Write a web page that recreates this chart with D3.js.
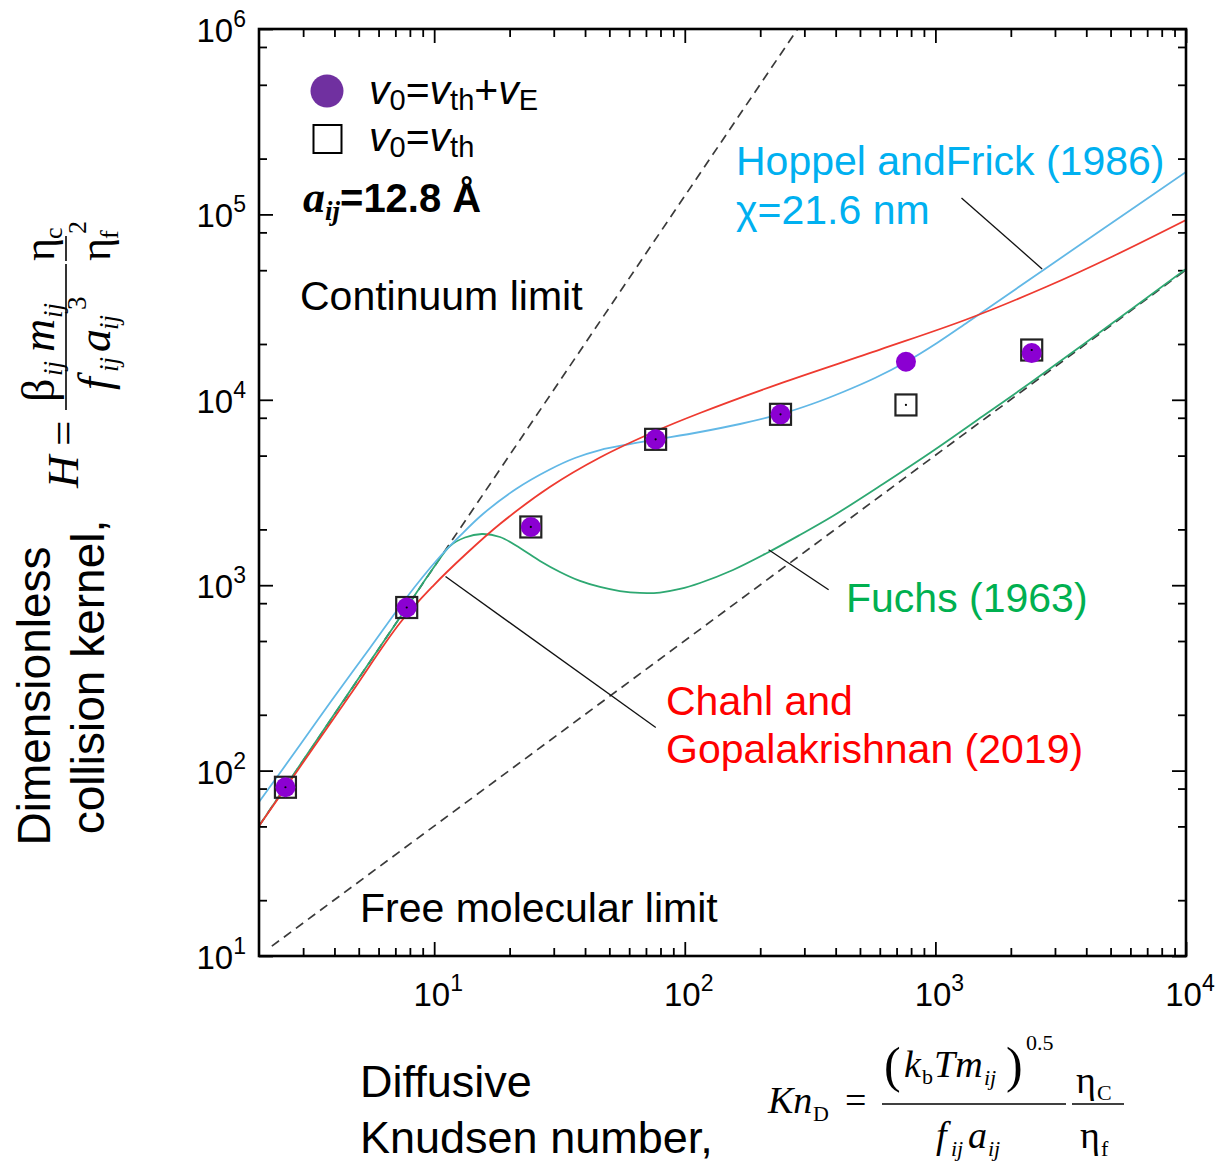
<!DOCTYPE html>
<html>
<head>
<meta charset="utf-8">
<script src="https://cdn.jsdelivr.net/npm/d3@7"></script>
<style>
  html, body { margin: 0; padding: 0; background: #fff; }
  svg { display: block; }
  text { font-family: "Liberation Sans", Arial, Helvetica, sans-serif; }
  .serif { font-family: "Liberation Serif", "Times New Roman", serif; }
</style>
</head>
<body>
<svg id="chart" width="1225" height="1166"></svg>
<script>
// ---- simulation points (dimensionless kernel H vs diffusive Knudsen number) ----
const simKn    = [2.55, 7.77, 24.3, 76.5, 241, 763, 2423];
const simH_thE = [81.3, 758, 2061, 6120, 8350, 16050, 17870];   // v0 = vth + vE
const simH_th  = [81.3, 758, 2061, 6120, 8350, 9380, 18560];    // v0 = vth

// ---- model curves ----
const chahlKn = [2.0, 2.914, 4.613, 7.302, 9.89, 13.39, 18.30, 28.93, 45.87, 76.77, 115,
                 239.3, 601, 1337, 2788, 5113, 10000];
const chahlH  = [50.2, 104.6, 255.7, 625.5, 990, 1473, 2138, 3386, 4885, 6788, 8489,
                 12230, 18660, 27190, 40840, 59500, 93290];

const hoppelKn = [2.0, 2.914, 3.91, 5.543, 7.789, 10.26, 12.67, 15.65, 21.21, 28.93, 36.46,
                  45.87, 60.44, 76.77, 115, 166.1, 242.1, 321.8, 427.9, 574.1, 763.3, 1015,
                  1349, 1811, 2664, 4537, 10000];
const hoppelH  = [67.7, 137.4, 240.3, 458.4, 863.8, 1367, 1843, 2421, 3303, 4209, 4855,
                  5360, 5776, 6108, 6704, 7404, 8385, 9491, 11020, 13110, 15990, 20250,
                  26280, 34540, 49520, 81380, 169300];

const fuchsKn = [2.0, 2.914, 4.613, 7.302, 9.89, 11.56, 13.27, 15.51, 18.30, 22.00, 26.44,
                 31.77, 38.17, 45.87, 55.1, 66.25, 79.6, 95.7, 115, 155.7, 212.8, 287.7,
                 390, 618, 977, 1549, 2449, 4966, 10000];
const fuchsH  = [50.2, 107.2, 268.7, 669.6, 1229, 1627, 1808, 1889, 1820, 1588, 1351,
                 1178, 1054, 978, 930, 908, 913, 954, 1028, 1208, 1492, 1866,
                 2362, 3515, 5295, 8177, 12630, 25320, 50760];

// ---- limiting laws (straight lines on log-log axes) ----
const continuumKn = [2, 282];
const continuumH  = [50.3, 1.0e6];
const freeMolKn   = [2.25, 10000];
const freeMolH    = [11.3, 50200];

// ---- axes ----
const xMajor = [10, 100, 1000, 10000];
const xMajorExp = ["1", "2", "3", "4"];
const yMajor = [10, 100, 1000, 10000, 100000, 1000000];
const yMajorExp = ["1", "2", "3", "4", "5", "6"];
const xMinorMult = [2, 3, 4, 5, 6, 7, 8, 9];
const yMinorMult = [2, 5, 8];

// ---- leader lines from labels to curves ([Kn, H] end points) ----
const leaderHoppel = [[1271, 122700], [2667, 50800]];
const leaderFuchs  = [[216, 1553], [375, 946]];
const leaderChahl  = [[11.1, 1114], [76.6, 170.6]];

const svg = d3.select("#chart");
const L = 259, R = 1186, T = 29, B = 956;

const x = d3.scaleLog().domain([2, 1e4]).range([L, R]);
const y = d3.scaleLog().domain([10, 1e6]).range([B, T]);

const zip = (a, b) => a.map((v, i) => [v, b[i]]);

// minor tick values
const xMinor = [];
[1, 10, 100, 1000].forEach(d => xMinorMult.forEach(m => {
  const v = m * d; if (v > 2 && v < 1e4) xMinor.push(v);
}));
const yMinor = [];
[10, 100, 1000, 10000, 100000].forEach(d => yMinorMult.forEach(m => yMinor.push(m * d)));

// ---- ticks on all four sides, pointing inward ----
function tickAxis(gen, vals, size, transform) {
  const g = svg.append("g").attr("transform", transform)
    .call(gen.tickValues(vals).tickSizeInner(-size).tickSizeOuter(0).tickFormat(""));
  g.select(".domain").remove();
  g.selectAll(".tick line").attr("stroke", "#000").attr("stroke-width", 1.8);
  return g;
}
tickAxis(d3.axisBottom(x), xMajor, 14, `translate(0,${B})`);
tickAxis(d3.axisBottom(x), xMinor, 8, `translate(0,${B})`);
tickAxis(d3.axisTop(x), xMajor, 14, `translate(0,${T})`);
tickAxis(d3.axisTop(x), xMinor, 8, `translate(0,${T})`);
tickAxis(d3.axisLeft(y), yMajor, 14, `translate(${L},0)`);
tickAxis(d3.axisLeft(y), yMinor, 8, `translate(${L},0)`);
tickAxis(d3.axisRight(y), yMajor, 14, `translate(${R},0)`);
tickAxis(d3.axisRight(y), yMinor, 8, `translate(${R},0)`);

// tick labels 10^n
xMajor.forEach((v, i) => {
  const t = svg.append("text").attr("x", x(v) + 4).attr("y", 1006)
    .attr("text-anchor", "middle").attr("font-size", 33).attr("fill", "#000");
  t.append("tspan").text("10");
  t.append("tspan").attr("font-size", 23).attr("dy", -15).text(xMajorExp[i]);
});
yMajor.forEach((v, i) => {
  const t = svg.append("text").attr("x", 246).attr("y", y(v) + 13)
    .attr("text-anchor", "end").attr("font-size", 33).attr("fill", "#000");
  t.append("tspan").text("10");
  t.append("tspan").attr("font-size", 23).attr("dy", -15).text(yMajorExp[i]);
});

// ---- clip region for plotted lines ----
svg.append("clipPath").attr("id", "plotClip")
  .append("rect").attr("x", L).attr("y", T).attr("width", R - L).attr("height", B - T);
const plot = svg.append("g").attr("clip-path", "url(#plotClip)");

const line = d3.line().x(d => x(d[0])).y(d => y(d[1])).curve(d3.curveCatmullRom.alpha(0.5));

// limiting laws
plot.append("path").datum(zip(continuumKn, continuumH)).attr("d", line)
  .attr("fill", "none").attr("stroke", "#3a3a3a").attr("stroke-width", 1.7).attr("stroke-dasharray", "9,6");
plot.append("path").datum(zip(freeMolKn, freeMolH)).attr("d", line)
  .attr("fill", "none").attr("stroke", "#3a3a3a").attr("stroke-width", 1.7).attr("stroke-dasharray", "9,6");

// model curves
plot.append("path").datum(zip(fuchsKn, fuchsH)).attr("d", line)
  .attr("fill", "none").attr("stroke", "#2ea872").attr("stroke-width", 1.8);
plot.append("path").datum(zip(hoppelKn, hoppelH)).attr("d", line)
  .attr("fill", "none").attr("stroke", "#62b8e6").attr("stroke-width", 1.8);
plot.append("path").datum(zip(chahlKn, chahlH)).attr("d", line)
  .attr("fill", "none").attr("stroke", "#ee3a30").attr("stroke-width", 1.8);

// leader lines
[leaderHoppel, leaderFuchs, leaderChahl].forEach(seg => {
  svg.append("line")
    .attr("x1", x(seg[0][0])).attr("y1", y(seg[0][1]))
    .attr("x2", x(seg[1][0])).attr("y2", y(seg[1][1]))
    .attr("stroke", "#111").attr("stroke-width", 1.3);
});

// simulation markers: squares, then filled circles, then square centre dots
const sq = 21;
svg.append("g").selectAll("rect").data(zip(simKn, simH_th)).join("rect")
  .attr("x", d => x(d[0]) - sq / 2).attr("y", d => y(d[1]) - sq / 2)
  .attr("width", sq).attr("height", sq)
  .attr("fill", "none").attr("stroke", "#222").attr("stroke-width", 2.2);
svg.append("g").selectAll("circle").data(zip(simKn, simH_thE)).join("circle")
  .attr("cx", d => x(d[0])).attr("cy", d => y(d[1])).attr("r", 10)
  .attr("fill", "#8b00d2");
svg.append("g").selectAll("circle").data(zip(simKn, simH_th)).join("circle")
  .attr("cx", d => x(d[0])).attr("cy", d => y(d[1])).attr("r", 1.1)
  .attr("fill", "#000");

// frame
svg.append("rect").attr("x", L).attr("y", T).attr("width", R - L).attr("height", B - T)
  .attr("fill", "none").attr("stroke", "#000").attr("stroke-width", 2.6);

// ---- legend ----
svg.append("circle").attr("cx", 327).attr("cy", 91).attr("r", 16.5).attr("fill", "#7030a0");
svg.append("rect").attr("x", 313.5).attr("y", 125).attr("width", 28).attr("height", 28)
  .attr("fill", "none").attr("stroke", "#000").attr("stroke-width", 2);

function velText(yb, parts) {
  const t = svg.append("text").attr("x", 369).attr("y", yb).attr("font-size", 41).attr("fill", "#000");
  parts.forEach(p => {
    const s = t.append("tspan").text(p.s);
    if (p.it) s.attr("font-style", "italic");
    if (p.sub) s.attr("font-size", 29).attr("dy", 6);
    if (p.up) s.attr("dy", -6);
  });
}
velText(104, [{s: "v", it: 1}, {s: "0", sub: 1}, {s: "=", up: 1}, {s: "v", it: 1}, {s: "th", sub: 1},
              {s: "+", up: 1}, {s: "v", it: 1}, {s: "E", sub: 1}]);
velText(151, [{s: "v", it: 1}, {s: "0", sub: 1}, {s: "=", up: 1}, {s: "v", it: 1}, {s: "th", sub: 1}]);

const aT = svg.append("text").attr("x", 303).attr("y", 212).attr("font-weight", "bold")
  .attr("font-size", 40).attr("fill", "#000");
aT.append("tspan").attr("class", "serif").attr("font-style", "italic").attr("font-size", 44).text("a");
aT.append("tspan").attr("class", "serif").attr("font-style", "italic").attr("font-size", 27).attr("dy", 8).text("ij");
aT.append("tspan").attr("dy", -8).text("=12.8 Å");

// ---- in-plot labels ----
function label(tx, ty, s, col, fs) {
  svg.append("text").attr("x", tx).attr("y", ty).attr("font-size", fs || 41).attr("fill", col).text(s);
}
label(300, 310, "Continuum limit", "#000");
label(360, 922, "Free molecular limit", "#000");
label(736, 175, "Hoppel andFrick (1986)", "#00b0f0");
label(736, 224, "χ=21.6 nm", "#00b0f0");
label(846, 612, "Fuchs (1963)", "#00b050");
label(666, 715, "Chahl and", "#ff0000");
label(666, 763, "Gopalakrishnan (2019)", "#ff0000");

// ---- x axis title ----
label(360, 1097, "Diffusive", "#000", 45);
label(360, 1153, "Knudsen number,", "#000", 45);

// Kn_D formula
function st(g, tx, ty, s, fs, it) {
  const t = g.append("text").attr("class", "serif").attr("x", tx).attr("y", ty)
    .attr("font-size", fs).attr("fill", "#000").text(s);
  if (it) t.attr("font-style", "italic");
  return t;
}
const fx = svg.append("g");
st(fx, 768, 1113, "Kn", 38, 1);
st(fx, 813, 1121, "D", 22);
st(fx, 845, 1113, "=", 38);
fx.append("line").attr("x1", 882).attr("x2", 1066).attr("y1", 1104).attr("y2", 1104)
  .attr("stroke", "#000").attr("stroke-width", 1.6);
st(fx, 884, 1082, "(", 50);
st(fx, 904, 1077, "k", 38, 1);
st(fx, 922, 1084, "b", 22);
st(fx, 934, 1077, "Tm", 38, 1);
st(fx, 984, 1085, "ij", 22, 1);
st(fx, 1006, 1082, ")", 50);
st(fx, 1026, 1050, "0.5", 22);
st(fx, 936, 1148, "f", 38, 1);
st(fx, 951, 1156, "ij", 22, 1);
st(fx, 968, 1148, "a", 38, 1);
st(fx, 988, 1156, "ij", 22, 1);
fx.append("line").attr("x1", 1072).attr("x2", 1124).attr("y1", 1104).attr("y2", 1104)
  .attr("stroke", "#000").attr("stroke-width", 1.6);
st(fx, 1076, 1093, "η", 38);
st(fx, 1097, 1100, "C", 22);
st(fx, 1080, 1148, "η", 38);
st(fx, 1101, 1156, "f", 22);

// ---- y axis title (rotated) ----
svg.append("text").attr("transform", "translate(50,696) rotate(-90)")
  .attr("text-anchor", "middle").attr("font-size", 46).attr("fill", "#000").text("Dimensionless");
svg.append("text").attr("transform", "translate(104,677) rotate(-90)")
  .attr("text-anchor", "middle").attr("font-size", 46).attr("fill", "#000").text("collision kernel,");

// H formula, drawn in a rotated frame
const fy = svg.append("g").attr("transform", "translate(66,490) rotate(-90)");
st(fy, 2, 12, "H", 45, 1);
st(fy, 44, 12, "=", 45);
fy.append("line").attr("x1", 80).attr("x2", 226).attr("y1", 0).attr("y2", 0)
  .attr("stroke", "#000").attr("stroke-width", 1.6);
st(fy, 88, -12, "β", 46);
st(fy, 114, -4, "ij", 27, 1);
st(fy, 138, -12, "m", 46, 1);
st(fy, 172, -4, "ij", 27, 1);
st(fy, 100, 44, "f", 46, 1);
st(fy, 118, 52, "ij", 27, 1);
st(fy, 138, 44, "a", 46, 1);
st(fy, 160, 52, "ij", 27, 1);
st(fy, 180, 20, "3", 27);
fy.append("line").attr("x1", 229).attr("x2", 254).attr("y1", 0).attr("y2", 0)
  .attr("stroke", "#000").attr("stroke-width", 1.6);
st(fy, 229, -12, "η", 44);
st(fy, 251, -4, "c", 26);
st(fy, 229, 44, "η", 44);
st(fy, 251, 52, "f", 26);
st(fy, 256, 20, "2", 26);
</script>
</body>
</html>
